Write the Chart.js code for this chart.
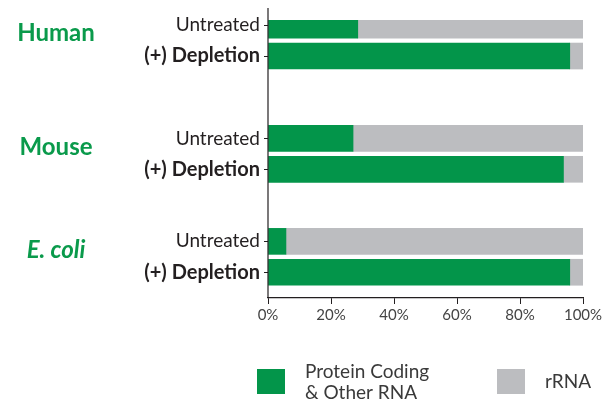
<!DOCTYPE html>
<html lang="en">
<head>
    <meta charset="UTF-8">
    <title>rRNA depletion</title>
    <script src="https://cdn.jsdelivr.net/npm/chart.js"></script>
    <style>
        html, body { margin: 0; padding: 0; background: #fff; }
        #wrap { width: 615px; height: 400px; }
    </style>
</head>
<body>
<div id="wrap"><canvas id="chart" width="615" height="400"></canvas></div>
<script>
    // Data (percent of reads)
    const groups = ['Human', 'Mouse', 'E. coli'];
    const conditions = ['Untreated', '(+) Depletion'];
    const proteinCoding = [28.5, 95.8, 27, 93.8, 5.7, 95.8];
    const rRNA = [71.5, 4.2, 73, 6.2, 94.3, 4.2];
    const xTicks = [0, 20, 40, 60, 80, 100];
    const seriesNames = ['Protein Coding\n& Other RNA', 'rRNA'];

    const GREEN = '#03954a';
    const GREY = '#bcbdc0';
    const INK = '#231f20';

    // rows sit on a third-step grid: two bars per group, a gap between groups
    const rowSlot = [0, 3, 11, 14, 21, 24];
    const nSlots = 27;
    const labels = new Array(nSlots).fill('');
    const pcData = new Array(nSlots).fill(null);
    const rrData = new Array(nSlots).fill(null);
    rowSlot.forEach((s, i) => {
        labels[s] = conditions[i % 2];
        pcData[s] = proteinCoding[i];
        rrData[s] = rRNA[i];
    });

    const decor = {
        id: 'decor',
        afterDraw(chart) {
            const ctx = chart.ctx;
            const y = chart.scales.y;
            const area = chart.chartArea;
            ctx.save();
            // y axis line reaches a bit above the first bar
            ctx.strokeStyle = INK;
            ctx.lineWidth = 1.2;
            ctx.beginPath();
            ctx.moveTo(area.left, area.top - 12);
            ctx.lineTo(area.left, area.bottom);
            ctx.stroke();

            // group names
            ctx.fillStyle = '#0a9a4b';
            ctx.textAlign = 'center';
            ctx.textBaseline = 'middle';
            groups.forEach((g, i) => {
                const a = y.getPixelForValue(rowSlot[i * 2]);
                const b = y.getPixelForValue(rowSlot[i * 2 + 1]);
                ctx.font = (g === 'E. coli' ? 'italic ' : '') + 'bold 24px Lato';
                ctx.fillText(g, 56, (a + b) / 2 - 7);
            });

            // legend
            const boxes = [{x: 257, col: GREEN, tx: 305}, {x: 497, col: GREY, tx: 545}];
            ctx.font = '19px Lato';
            ctx.textAlign = 'left';
            chart.data.datasets.forEach((ds, i) => {
                const b = boxes[i];
                ctx.fillStyle = b.col;
                ctx.fillRect(b.x, 369, 28, 25);
                ctx.fillStyle = '#3a3a3a';
                const lines = seriesNames[i].split('\n');
                lines.forEach((ln, k) => {
                    const ty = 382 + (k - (lines.length - 1) / 2) * 21;
                    ctx.fillText(ln, b.tx, ty);
                });
            });
            ctx.restore();
        }
    };

    new Chart(document.getElementById('chart'), {
        type: 'bar',
        data: {
            labels: labels,
            datasets: [
                { label: seriesNames[0], data: pcData, backgroundColor: GREEN, barThickness: 26 },
                { label: seriesNames[1], data: rrData, backgroundColor: GREY, barThickness: 26 }
            ]
        },
        options: {
            indexAxis: 'y',
            responsive: false,
            animation: false,
            devicePixelRatio: 1,
            layout: { padding: { top: 20, right: 32, left: 0, bottom: 0 } },
            plugins: { legend: { display: false }, tooltip: { enabled: false } },
            scales: {
                x: {
                    stacked: true,
                    min: 0,
                    max: 100,
                    afterBuildTicks: s => { s.ticks = xTicks.map(v => ({ value: v })); },
                    afterFit: s => { s.height = 102; },
                    grid: { drawOnChartArea: false, tickLength: 6, color: INK, lineWidth: 1 },
                    border: { color: INK, width: 1.2 },
                    ticks: {
                        callback: v => v + '%',
                        font: { family: 'Lato', size: 15 },
                        color: '#444',
                        padding: 2
                    }
                },
                y: {
                    stacked: true,
                    afterFit: s => { s.width = 268; },
                    border: { display: false },
                    grid: {
                        drawOnChartArea: false,
                        offset: false,
                        tickLength: 4,
                        color: c => (c.tick && c.tick.label ? INK : 'rgba(0,0,0,0)')
                    },
                    ticks: {
                        autoSkip: false,
                        color: INK,
                        padding: 4,
                        font: c => ({
                            family: 'Lato',
                            size: c.tick && c.tick.label === '(+) Depletion' ? 20 : 19,
                            weight: c.tick && c.tick.label === '(+) Depletion' ? 'bold' : 'normal'
                        })
                    }
                }
            }
        },
        plugins: [decor]
    });
</script>
</body>
</html>
